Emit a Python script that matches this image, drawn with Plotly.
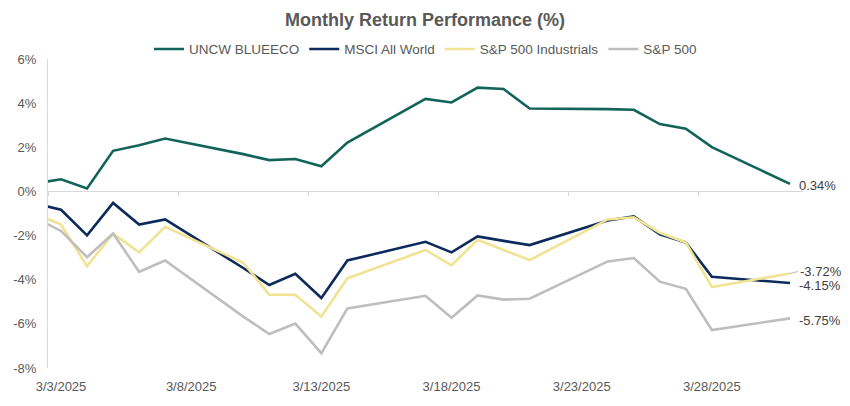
import plotly.graph_objects as go

# ---- data ----
dates = ["2025-02-28",
         "2025-03-03", "2025-03-04", "2025-03-05", "2025-03-06", "2025-03-07",
         "2025-03-10", "2025-03-11", "2025-03-12", "2025-03-13", "2025-03-14",
         "2025-03-17", "2025-03-18", "2025-03-19", "2025-03-20", "2025-03-21",
         "2025-03-24", "2025-03-25", "2025-03-26", "2025-03-27", "2025-03-28",
         "2025-03-31"]

uncw = [0.0,
        0.55, 0.13, 1.84, 2.09, 2.40,
        1.69, 1.42, 1.47, 1.14, 2.21,
        4.19, 4.03, 4.70, 4.64, 3.76,
        3.73, 3.70, 3.05, 2.84, 2.01,
        0.34]

msci = [0.0,
        -0.83, -1.99, -0.52, -1.50, -1.27,
        -3.47, -4.24, -3.73, -4.83, -3.13,
        -2.28, -2.76, -2.04, -2.24, -2.43,
        -1.32, -1.13, -1.94, -2.31, -3.87,
        -4.15]

industrials = [0.0,
               -1.50, -3.39, -1.91, -2.76, -1.60,
               -3.23, -4.68, -4.68, -5.67, -3.94,
               -2.65, -3.35, -2.19, -2.65, -3.11,
               -1.27, -1.17, -1.87, -2.31, -4.33,
               -3.72]

sp500 = [0.0,
         -1.79, -2.98, -1.91, -3.64, -3.13,
         -5.67, -6.46, -5.99, -7.33, -5.30,
         -4.73, -5.72, -4.71, -4.90, -4.86,
         -3.17, -3.02, -4.09, -4.41, -6.28,
         -5.75]

series_names = ["UNCW BLUEECO", "MSCI All World", "S&P 500 Industrials", "S&P 500"]
series_values = [uncw, msci, industrials, sp500]
series_colors = ["#12645A", "#0C2A5C", "#F1E394", "#BEBEBE"]

x_tick_vals = ["2025-03-03", "2025-03-08", "2025-03-13", "2025-03-18", "2025-03-23", "2025-03-28"]
x_tick_text = ["3/3/2025", "3/8/2025", "3/13/2025", "3/18/2025", "3/23/2025", "3/28/2025"]
band_edges = ["2025-03-02 12:00", "2025-03-07 12:00", "2025-03-12 12:00",
              "2025-03-17 12:00", "2025-03-22 12:00", "2025-03-27 12:00"]
y_tick_vals = [6, 4, 2, 0, -2, -4, -6, -8]
y_tick_text = ["6%", "4%", "2%", "0%", "-2%", "-4%", "-6%", "-8%"]

x_range = ["2025-03-02 12:00", "2025-03-31 12:00"]
y_range = [-8, 6]

FONT = "Liberation Sans, Arial, sans-serif"
TXT = "#595959"

fig = go.Figure()
for name, vals, col in zip(series_names, series_values, series_colors):
    fig.add_trace(go.Scatter(x=dates, y=vals, name=name, mode="lines",
                             line=dict(color=col, width=2.6), hoverinfo="skip"))

# invisible trace on second x axis to carry the tick marks at the zero line
fig.add_trace(go.Scatter(x=[dates[-1]], y=[0], xaxis="x2", mode="lines",
                         showlegend=False, hoverinfo="skip", line=dict(width=0)))

# end-of-line value labels
for name, vals in zip(series_names, series_values):
    last = vals[-1]
    if name == "S&P 500 Industrials":
        fig.add_annotation(x=dates[-1], y=last, text=f"{last:.2f}%", showarrow=True,
                           arrowhead=0, arrowwidth=0.8, arrowcolor="#A6A6A6",
                           ax=8, ay=-2, xanchor="left", standoff=0,
                           font=dict(family=FONT, size=13, color="#404040"))
    else:
        fig.add_annotation(x=dates[-1], y=last, text=f"{last:.2f}%", showarrow=False,
                           xanchor="left", xshift=7, yshift=-2,
                           font=dict(family=FONT, size=13, color="#404040"))

fig.update_layout(
    width=850, height=406,
    margin=dict(l=48, r=47, t=59, b=32),
    paper_bgcolor="white", plot_bgcolor="white",
    font=dict(family=FONT, color=TXT, size=13),
    title=dict(text="<b>Monthly Return Performance (%)</b>", x=0.5, xanchor="center",
               y=1 - 20 / 406, yanchor="middle", font=dict(family=FONT, size=18, color=TXT)),
    legend=dict(orientation="h", x=0.5, xanchor="center", y=1 + 10 / 315, yanchor="middle",
                font=dict(family=FONT, size=13.5, color=TXT), bgcolor="rgba(0,0,0,0)",
                itemwidth=30, tracegroupgap=0),
    xaxis=dict(type="date", range=x_range, tickvals=x_tick_vals, ticktext=x_tick_text,
               showgrid=False, zeroline=False, showline=False, ticks="",
               ticklabelstandoff=9,
               tickfont=dict(family=FONT, size=13, color=TXT)),
    xaxis2=dict(type="date", range=x_range, overlaying="x", anchor="free",
                position=(0 - y_range[0]) / (y_range[1] - y_range[0]),
                tickvals=band_edges, showticklabels=False, ticks="outside",
                ticklen=4, tickcolor="#D9D9D9", showgrid=False, zeroline=False,
                showline=False),
    yaxis=dict(range=y_range, tickvals=y_tick_vals, ticktext=y_tick_text,
               showgrid=False, zeroline=True, zerolinecolor="#D9D9D9", zerolinewidth=1,
               showline=True, linecolor="#D9D9D9", linewidth=1, ticks="",
               ticklabelstandoff=8,
               tickfont=dict(family=FONT, size=13, color=TXT)),
)

fig.write_html("out.html", config={"displayModeBar": False},
               post_script="document.body.style.margin='0';document.body.style.padding='0';")
